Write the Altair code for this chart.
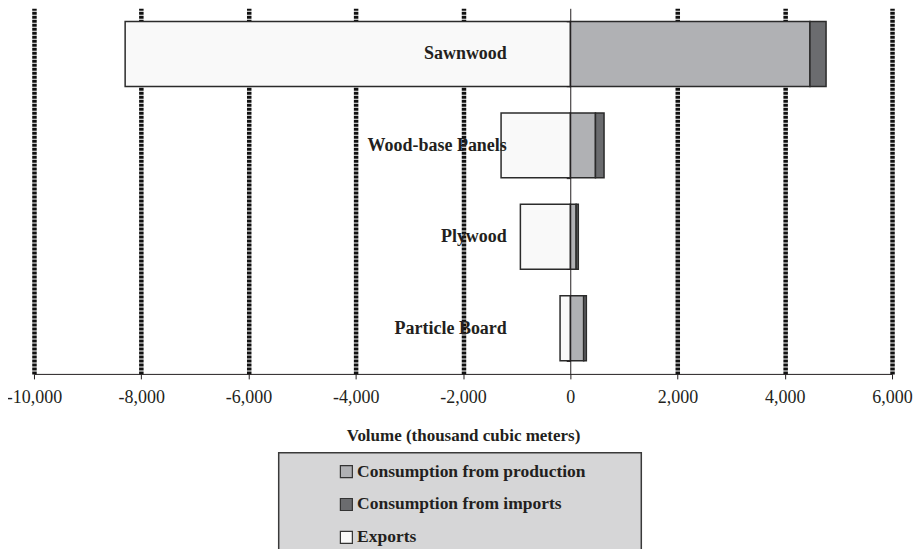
import altair as alt
import pandas as pd

categories = ["Sawnwood", "Wood-base Panels", "Plywood", "Particle Board"]
production = [4470, 470, 110, 250]
imports_ = [300, 160, 40, 50]
exports = [-8300, -1290, -930, -190]
series = ["Consumption from production", "Consumption from imports", "Exports"]
colors = ["#b0b1b4", "#6b6c6f", "#f9f9f9"]
x_ticks = [-10000, -8000, -6000, -4000, -2000, 0, 2000, 4000, 6000]

rows = []
for i, c in enumerate(categories):
    rows.append({"category": c, "series": series[0], "value": production[i], "order": 0})
    rows.append({"category": c, "series": series[1], "value": imports_[i], "order": 1})
    rows.append({"category": c, "series": series[2], "value": exports[i], "order": 2})
df = pd.DataFrame(rows)

W, H = 859, 366
font = "Liberation Serif"
ink = "#231f20"

bars = alt.Chart(df).mark_bar(stroke="#2b2b2b", strokeWidth=1.5).encode(
    y=alt.Y(
        "category:N",
        sort=categories,
        scale=alt.Scale(paddingInner=0.29, paddingOuter=0.145),
        axis=alt.Axis(
            title=None,
            orient="left",
            offset=-W * 10 / 16,
            tickBand="extent",
            domainColor=ink,
            tickColor=ink,
            tickSize=4,
            labelPadding=60,
            labelFont=font,
            labelFontWeight="bold",
            labelFontSize=18,
            labelColor=ink,
            grid=False,
            zindex=1,
        ),
    ),
    x=alt.X(
        "value:Q",
        stack="zero",
        scale=alt.Scale(domain=[-10000, 6000], nice=False),
        axis=alt.Axis(
            values=x_ticks,
            labelExpr="(datum.value < 0 ? '-' : '') + format(abs(datum.value), ',')",
            labelFlush=False,
            labelOverlap=False,
            title="Volume (thousand cubic meters)",
            grid=True,
            gridColor="#111111",
            gridWidth=4.5,
            gridDash=[3, 1],
            gridOpacity={"condition": {"test": "datum.value === 0", "value": 0}, "value": 1},
            domainColor=ink,
            tickColor=ink,
            tickSize=5,
            labelFont=font,
            labelFontSize=18,
            labelColor=ink,
            labelPadding=10,
            titleFont=font,
            titleFontSize=17,
            titleFontWeight="bold",
            titleColor=ink,
            titlePadding=21,
        ),
    ),
    color=alt.Color(
        "series:N",
        scale=alt.Scale(domain=series, range=colors),
        legend=alt.Legend(
            title=None,
            orient="none",
            legendX=304,
            legendY=455,
            symbolType="square",
            symbolSize=144,
            symbolStrokeColor="#333333",
            symbolStrokeWidth=1.2,
            labelFont=font,
            labelFontSize=17.5,
            labelFontWeight="bold",
            labelColor=ink,
            labelOffset=2,
            rowPadding=14,
            padding=0,
            labelLimit=400,
        ),
    ),
    order=alt.Order("order:Q"),
)

legend_box = alt.Chart(pd.DataFrame({"k": [0]})).mark_rect(
    fill="#d6d6d7", stroke="#3a3a3a", strokeWidth=1.5
).encode(
    x=alt.value(245), x2=alt.value(608), y=alt.value(445), y2=alt.value(580)
)

chart = alt.layer(legend_box, bars).properties(
    width=W,
    height=H,
    autosize=alt.AutoSizeParams(type="none"),
    padding={"left": 26, "top": 0, "right": 22, "bottom": 175},
).configure_view(stroke=None)

chart.save("out.html", embed_options={"renderer": "svg", "actions": False})
